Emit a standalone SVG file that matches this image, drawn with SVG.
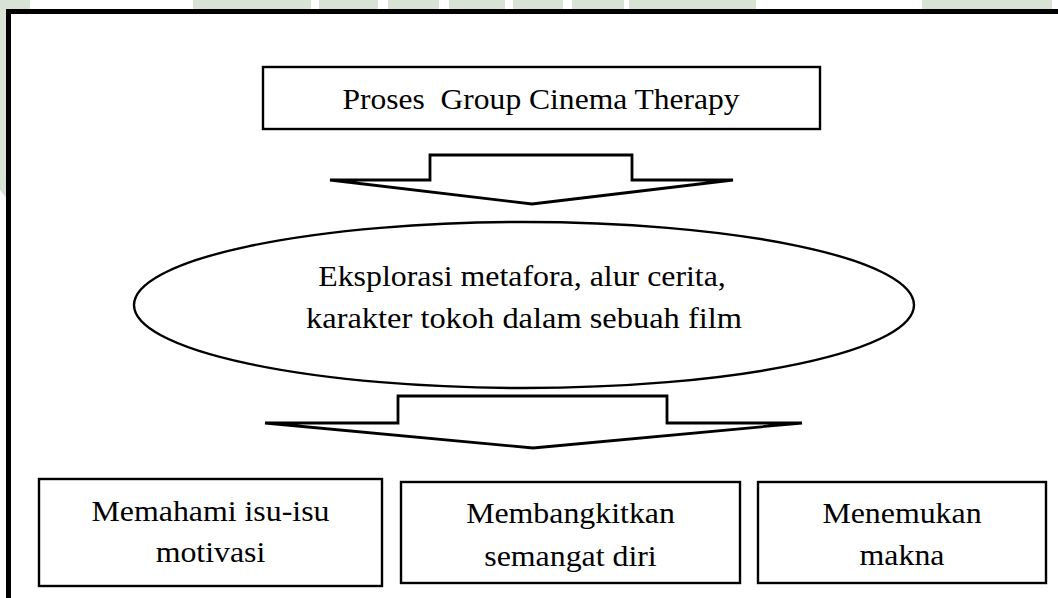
<svg xmlns="http://www.w3.org/2000/svg" width="1058" height="598" viewBox="0 0 1058 598">
<style>
.wm{fill:#d9e3d5;}
.frame{fill:none;stroke:#000;stroke-width:5;}
.shape{fill:#fff;stroke:#000;stroke-width:2.4;}
.arrow{fill:#fff;stroke:#000;stroke-width:2.8;stroke-linejoin:miter;stroke-miterlimit:4;}
.lbl{font-size:29.5px;fill:#000;text-anchor:middle;white-space:pre;}
</style>
<rect width="1058" height="598" fill="#fff"/>
<g id="watermark">
<rect class="wm" x="0" y="0" width="30" height="9"/>
<rect class="wm" x="193" y="0" width="118" height="9"/>
<rect class="wm" x="319" y="0" width="59" height="9"/>
<rect class="wm" x="388" y="0" width="51" height="9"/>
<rect class="wm" x="449" y="0" width="56" height="9"/>
<rect class="wm" x="513" y="0" width="50" height="9"/>
<rect class="wm" x="572" y="0" width="52" height="9"/>
<rect class="wm" x="629" y="0" width="127" height="9"/>
<rect class="wm" x="922" y="0" width="130" height="9"/>
<polygon class="wm" points="0,0 6,0 6,198 0,190"/>
</g>
<path class="frame" d="M8.5,600 V11.5 H1062"/>
<g id="connectors">
<polygon class="arrow" points="330,180 430,180 430,155 632,155 632,180 733,180 532,204"/>
<polygon class="arrow" points="265,423 398,423 398,396 667,396 667,423 802,423 533,448"/>
</g>
<g font-family="Liberation Serif, Tinos, Times New Roman, Nimbus Roman, FreeSerif, serif">
<g id="node-proses">
<rect class="shape" x="263" y="67" width="557" height="62"/>
<text class="lbl" xml:space="preserve" transform="translate(541,109) scale(1.07,1)">Proses  Group Cinema Therapy</text>
</g>
<g id="node-eksplorasi">
<ellipse class="shape" cx="524" cy="305" rx="390" ry="83"/>
<text class="lbl" transform="translate(522,286) scale(1.08,1)">Eksplorasi metafora, alur cerita,</text>
<text class="lbl" transform="translate(524,328) scale(1.1,1)">karakter tokoh dalam sebuah film</text>
</g>
<g id="node-memahami">
<rect class="shape" x="39" y="479" width="343" height="107"/>
<text class="lbl" transform="translate(210.5,521) scale(1.08,1)">Memahami isu-isu</text>
<text class="lbl" transform="translate(210.5,562) scale(1.08,1)">motivasi</text>
</g>
<g id="node-membangkitkan">
<rect class="shape" x="401" y="482" width="339" height="101"/>
<text class="lbl" transform="translate(570.5,523) scale(1.08,1)">Membangkitkan</text>
<text class="lbl" transform="translate(570.5,566) scale(1.08,1)">semangat diri</text>
</g>
<g id="node-menemukan">
<rect class="shape" x="758" y="482" width="288" height="101"/>
<text class="lbl" transform="translate(902,523) scale(1.08,1)">Menemukan</text>
<text class="lbl" transform="translate(902,565) scale(1.08,1)">makna</text>
</g>
</g>
</svg>
